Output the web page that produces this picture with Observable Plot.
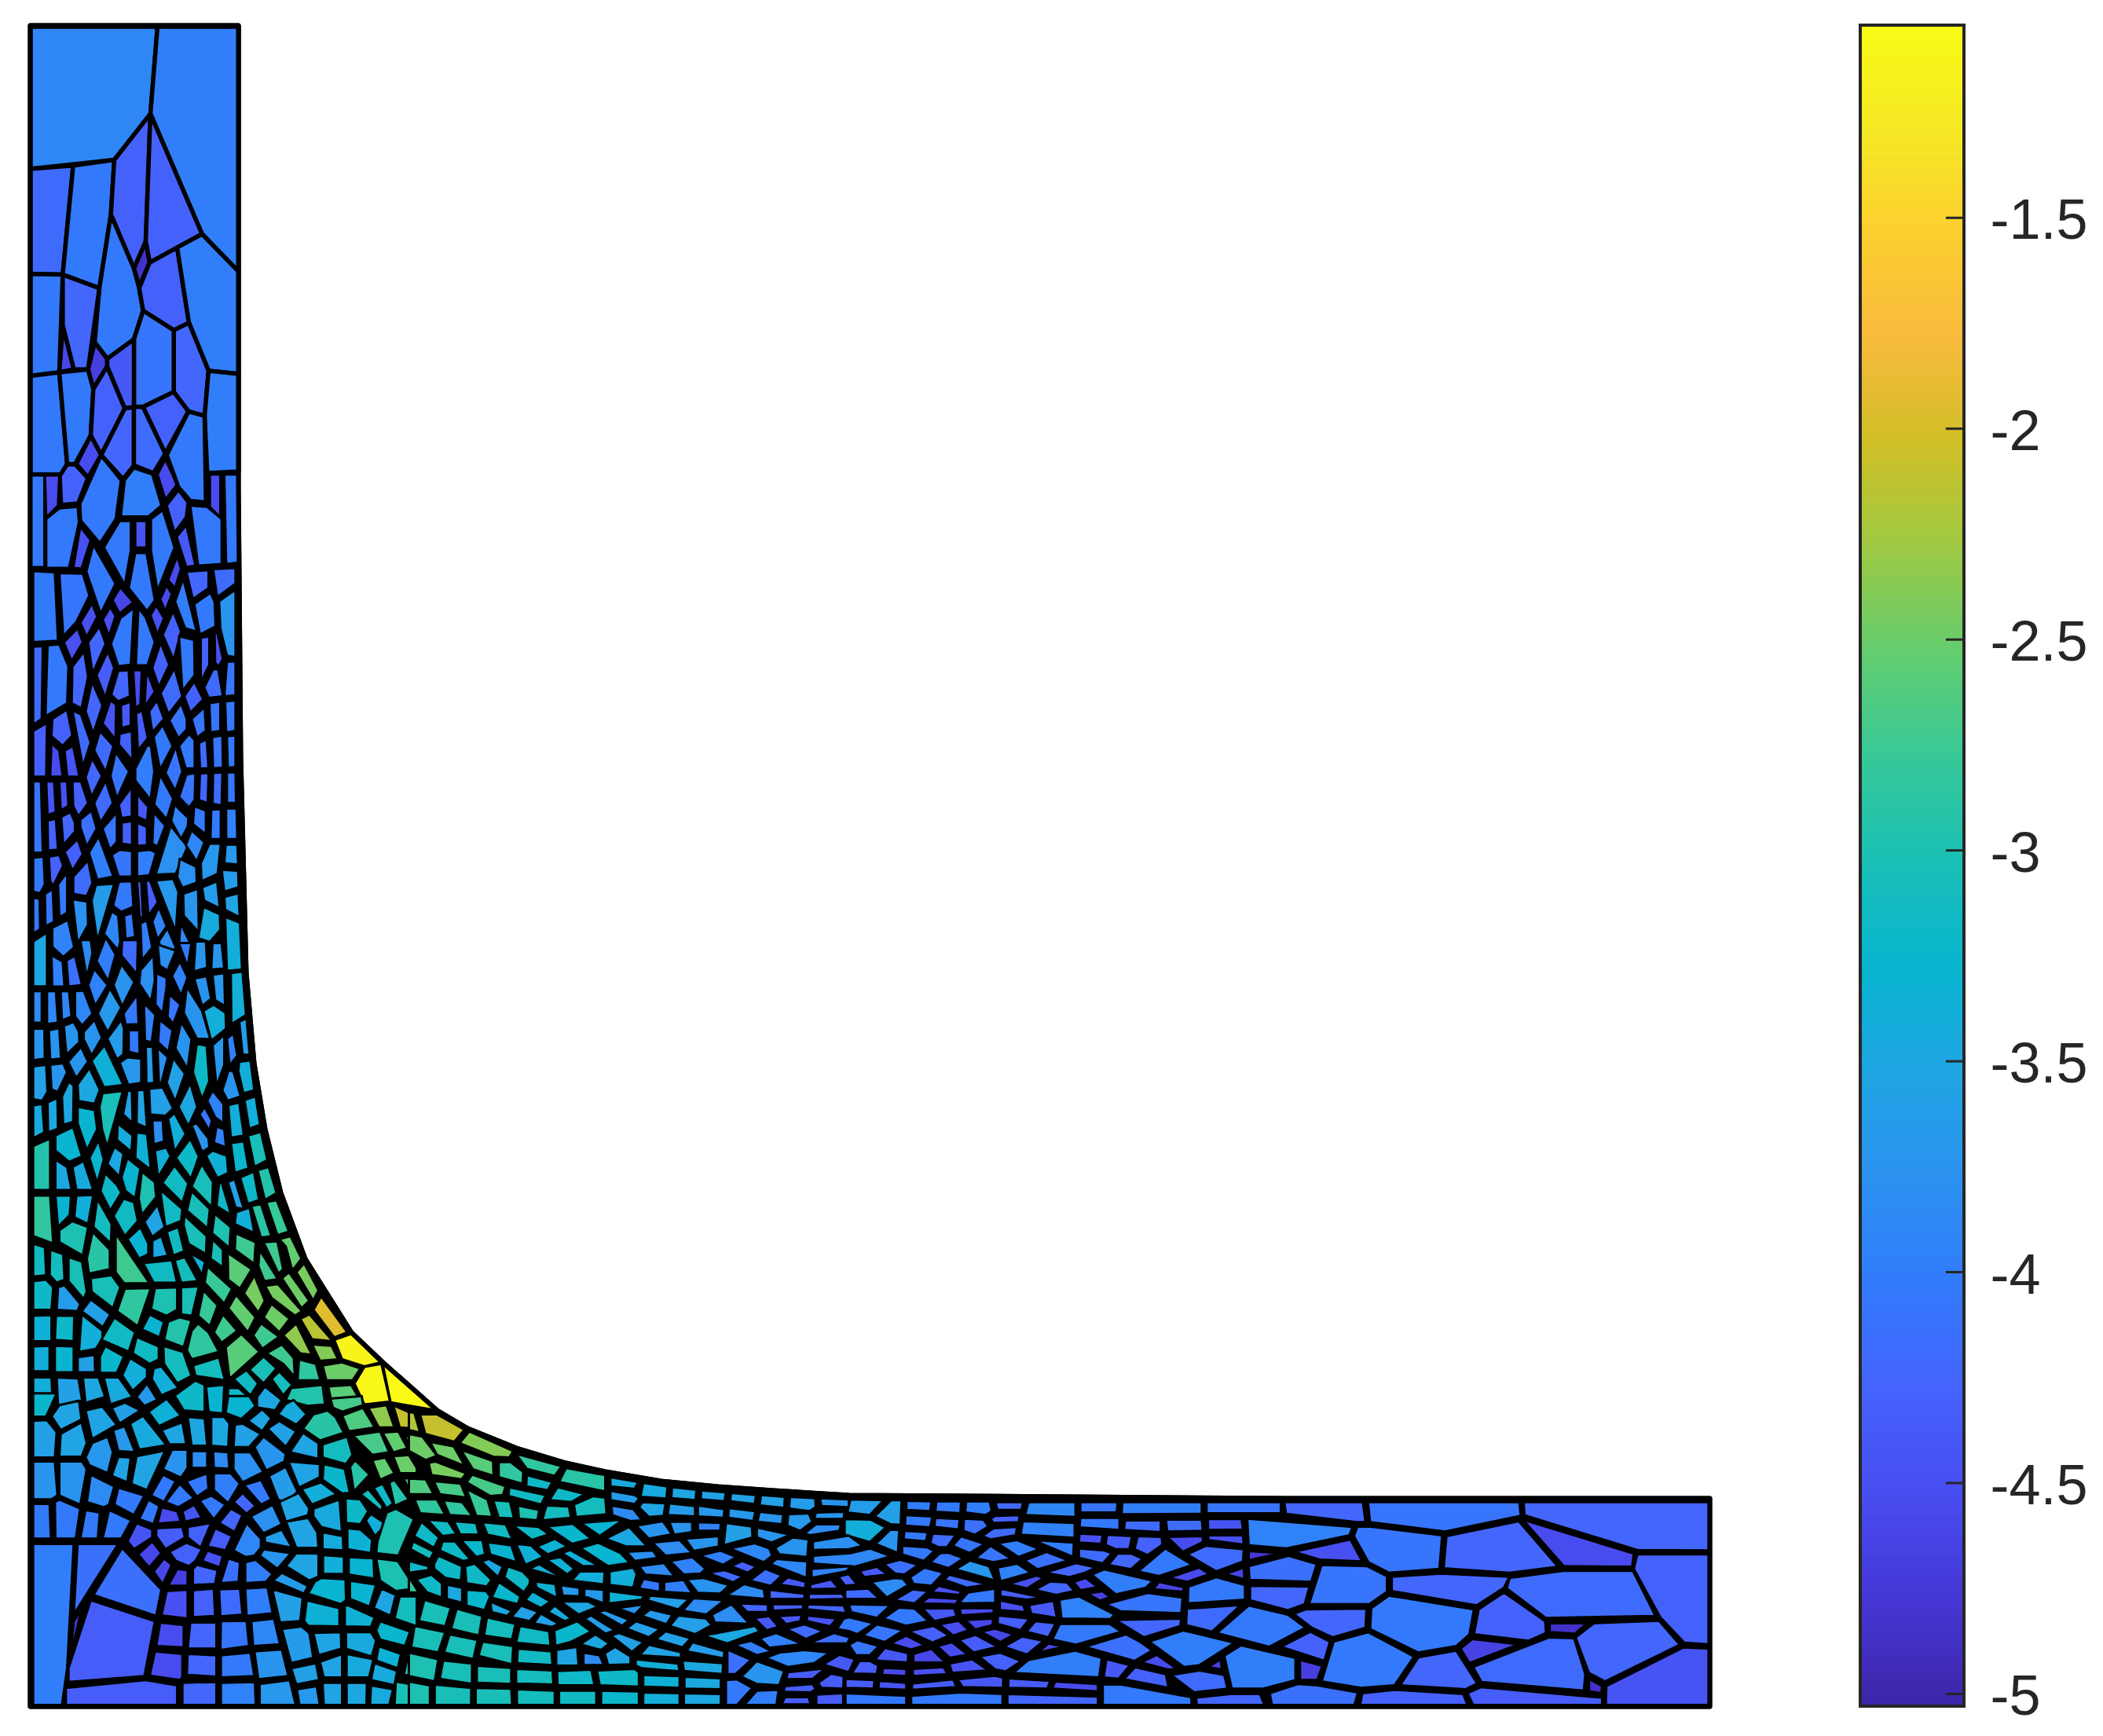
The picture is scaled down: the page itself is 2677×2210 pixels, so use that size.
<!DOCTYPE html>
<html><head><meta charset="utf-8">
<script src="https://cdn.jsdelivr.net/npm/d3@7"></script>
<script src="https://cdn.jsdelivr.net/npm/@observablehq/plot@0.6"></script>
<style>html,body{margin:0;background:#fff}#c{position:relative;width:2677px;height:2210px;overflow:hidden}#c svg{position:absolute;top:0;background:transparent}</style>
</head><body><div id="c"></div>
<script>
const meshTop=[
[-3.9,25,35,510,35,483,325,345,478,25,508],[-4,510,35,820,35,820,850,680,725,483,325],[-4.2,25,508,188,497,148,860,25,858],
[-4.05,188,497,345,478,332,660,288,905,148,860],[-4.3,345,478,483,325,465,750,420,840,332,660],[-4.3,483,325,680,725,585,770,480,820,465,750],
[-4.85,465,750,480,820,440,900,420,840],[-4.05,332,660,420,840,440,905,455,980,420,1075,318,1140,270,1085,288,905],[-4.3,480,820,585,770,630,1020,572,1045,455,980,440,905],
[-4,585,770,680,725,820,850,820,1190,705,1180,630,1020],[-4.25,630,1020,705,1180,690,1330,628,1315,572,1250,572,1045],[-4.1,455,980,572,1045,572,1250,455,1300,420,1300,420,1075],
[-4,705,1180,820,1190,820,1515,700,1520,690,1330],[-4.05,25,858,148,860,135,1185,25,1197],[-4.25,148,860,288,905,245,1175,190,1175,148,1030],[-4.6,148,1030,190,1175,135,1185],
[-4.05,25,1197,135,1185,165,1490,140,1525,25,1525],[-4.05,135,1185,245,1175,265,1240,255,1395,195,1490,165,1490],[-4.7,270,1085,318,1140,318,1165,265,1240,245,1175],
[-4.3,265,1240,318,1165,385,1305,295,1460,255,1395],[-4.4,318,1140,420,1075,420,1300,385,1305,318,1165],[-4.55,255,1395,295,1460,245,1535,200,1490],
[-4.25,385,1305,420,1300,420,1495,378,1540,295,1460],[-4.2,420,1300,455,1300,540,1455,495,1520,420,1495],[-4.3,455,1300,572,1250,628,1315,540,1455],
[-4.05,628,1315,690,1330,695,1618,635,1613,590,1568,545,1460]];
const meshUpper=[
[-4.05,25,-43,78,-43,78,265,25,265],[-4.55,80,-43,135,-43,130,60,85,100],[-4.3,140,-43,165,-73,195,-73,240,-30,205,50,145,55],[-4.05,85,105,135,70,205,65,210,115,172,268,85,268],
[-4.5,215,130,255,175,220,270,188,268],[-4.05,295,-103,370,-23,350,105,290,185,218,110,215,55],[-4,385,-23,420,-63,490,-43,525,60,475,97,370,97],[-4.55,510,-43,540,-93,585,-10,540,40],
[-4.3,545,60,590,10,625,50,618,100,575,150],[-4.55,710,-43,750,-43,750,100,710,65],[-4.05,765,-43,820,-43,820,250,772,255],[-4.05,635,60,700,65,755,105,755,255,665,260],
[-4.4,583,165,620,125,655,260,620,265],[-4.05,485,105,530,75,575,200,510,345,485,210],[-4.05,365,112,408,112,408,210,385,325,305,200],[-4.45,425,112,468,112,468,200,425,200],
[-4.05,425,218,468,218,500,375,470,412,400,335],[-4.05,265,190,350,320,293,420,238,280],[-4.05,35,278,118,282,130,510,35,515],[-4.1,135,285,225,287,250,360,200,448,150,495],
[-4.55,585,228,600,270,577,335,550,308],[-4.25,620,280,705,275,705,335,645,372],[-4.2,722,272,808,268,808,320,738,365],[-3.75,745,378,808,340,808,565,775,560,750,470],
[-4.05,650,388,712,350,728,380,732,462,672,490],[-4,608,302,660,480,615,468,577,380],[-4.6,368,332,418,382,365,420,338,375],[-4.5,260,385,280,430,240,498,215,450],
[-4.5,330,398,350,428,325,495,300,440],[-4.55,545,325,565,355,540,412,520,372],[-4.5,505,392,535,435,510,490,483,425],[-4.05,420,400,368,435,332,520,360,595,408,590],
[-4.05,437,400,465,432,500,515,472,592,427,592],[-4.3,570,410,600,478,572,575,530,490],[-4.5,205,468,225,515,182,578,152,515],[-4.25,288,462,312,520,262,620,245,515],
[-4.35,320,545,345,600,310,700,277,625],[-4.2,35,530,72,528,68,770,35,790],[-4.05,90,525,135,522,170,595,165,718,82,762],[-4.25,230,545,245,630,220,735,182,718,185,595],
[-4.25,360,610,400,608,405,695,360,712,333,690],[-4.55,417,608,450,608,445,722,425,735],[-4.5,468,608,500,680,460,730],[-4.3,522,515,555,590,515,665,490,600],
[-4.2,575,600,605,695,552,755,522,685],[-4.05,592,495,650,507,652,625,605,678],[-4.3,675,500,708,495,708,590,675,648],[-4.5,728,482,738,482,760,570,745,595,730,585],
[-4.2,722,605,742,605,760,695,705,700,688,665],[-4.3,650,645,685,705,635,750,612,695],[-4.2,478,745,508,708,535,770,490,815],[-4.1,600,718,622,770,622,805,590,835,555,775],
[-4.1,690,730,695,810,660,832,640,770],[-4.1,708,718,750,712,750,810,712,815],[-4.05,768,712,808,708,808,810,772,815],[-4.3,165,738,185,825,148,860,105,828,108,770],
[-4.3,35,810,88,783,85,962,35,962],[-4.2,185,742,218,755,255,848,225,930],[-4.25,260,645,300,725,265,820,235,745],[-4.45,330,708,352,722,350,840,300,785],
[-4.4,370,725,408,712,408,792,372,800],[-4.35,428,752,452,742,473,835,435,875],[-4.05,530,790,568,860,520,940,495,830],[-4.55,105,850,135,875,148,962,100,962],
[-4.45,155,875,188,860,212,962,165,962],[-4.2,290,810,342,860,312,948,268,875],[-4.3,412,810,415,910,362,855,365,820],[-4.1,580,860,605,945,578,1010,540,950],
[-4.05,630,820,652,840,652,935,618,935,592,860],[-4.2,668,850,698,838,705,935,672,935],[-4.1,718,830,758,825,760,932,722,935],[-4.05,775,828,808,825,808,930,778,932],
[-4.25,260,900,298,960,258,1030,235,965],[-4.1,350,880,402,945,355,1035,330,960],[-4,470,858,485,860,498,945,483,1040,425,975,425,935],[-4.05,520,955,570,1035,545,1105,497,1055],
[-4.1,620,955,655,950,652,1040,630,1065,592,1030],[-4.25,672,952,705,950,702,1050,668,1040],[-4.2,722,950,758,948,755,1058,720,1052],[-4.1,775,948,808,948,810,1050,775,1050],
[-4.1,35,978,65,978,72,1215,35,1215],[-4.45,85,978,115,978,122,1080,90,1090],[-4.5,135,978,165,978,170,1060,140,1075],[-4.3,185,978,218,978,245,1050,208,1095,188,1060],
[-4.2,312,975,340,1050,292,1115,268,1050],[-4.3,412,995,412,1095,372,1100,362,1055],[-4.4,432,1020,475,1062,470,1110,432,1095],[-4.3,90,1108,122,1102,130,1205,92,1208],
[-4.25,142,1095,178,1080,195,1115,195,1145,150,1190],[-4.15,258,1075,278,1135,240,1195,215,1130,215,1105],[-4.1,355,1080,355,1180,328,1205,300,1135],[-4.3,373,1115,413,1110,413,1190,373,1185],
[-4.3,432,1115,470,1130,470,1190,432,1192],[-4.05,495,1080,540,1125,510,1195,490,1185],[-3.8,560,1125,625,1195,580,1285,503,1288],[-3.95,575,1055,628,1100,625,1130,600,1170,562,1110],
[-4.05,650,1060,695,1075,695,1155,645,1120],[-4.05,715,1072,752,1070,752,1170,712,1170],[-3.95,772,1068,812,1068,815,1170,772,1170],[-3.9,640,1140,690,1180,660,1245,618,1190],
[-3.7,708,1185,752,1185,740,1285,678,1310,675,1250],[-3.7,770,1188,815,1188,818,1255,765,1250],[-4.05,35,1232,75,1228,80,1320,62,1350,35,1345],[-4.3,95,1228,135,1222,150,1258,112,1325,100,1310],
[-4.3,205,1170,225,1220,185,1275,155,1212],[-4.2,245,1240,262,1315,240,1360,188,1352,188,1295],[-4,285,1160,342,1295,280,1305,248,1215],[-4.1,365,1205,413,1210,413,1295,362,1295,335,1222],
[-4,432,1210,480,1205,505,1215,480,1290,432,1295],[-3.65,345,1318,280,1510,258,1375,275,1322],[-4.05,362,1312,412,1310,418,1395,372,1412,340,1392],[-4.35,432,1310,448,1310,455,1430,442,1432],
[-4.35,465,1308,482,1308,512,1380,475,1425],[-3.7,503,1308,570,1302,590,1345,580,1480],[-3.8,595,1235,658,1262,660,1315,605,1332,585,1295],[-3.65,680,1330,738,1310,748,1400,688,1375],
[-3.65,755,1272,818,1275,820,1330,765,1345],[-3.55,765,1362,820,1350,824,1430,768,1405],[-3.75,608,1352,665,1335,668,1480,610,1425],[-3.45,685,1395,748,1420,750,1472,710,1512,665,1500],
[-3.4,768,1428,825,1448,833,1604,775,1608],[-4.05,35,1365,60,1368,62,1470,35,1485],[-4.1,80,1352,110,1335,115,1445,82,1460],[-4.05,130,1320,165,1280,165,1415,135,1430],
[-3.8,185,1370,242,1378,245,1455,205,1518],[-3.95,108,1465,168,1438,192,1530,150,1562,108,1528],[-3.5,35,1510,88,1480,88,1660,35,1660],[-3.9,335,1410,360,1425,368,1510,360,1540,305,1485],
[-4.05,382,1425,415,1415,425,1495,388,1502],[-4,445,1450,470,1440,490,1530,450,1574],[-3.95,490,1445,515,1395,545,1460,510,1505],
[-4.1,775,580,808,578,808,692,765,695],[-3.85,515,1510,548,1465,580,1530,555,1568,530,1568],[-3.9,598,1448,640,1525,628,1568,592,1520]];
const meshCorner=[
[-3.95,105,40,148,62,155,145,108,145],[-4.15,162,58,195,42,222,140,170,145],[-3.85,215,-10,255,-10,262,35,240,115],[-4,312,-20,350,38,322,128,277,60],[-4.2,375,-10,435,-10,432,105,372,42],
[-3.8,495,40,500,125,485,195,440,135,445,90],[-3.8,510,5,580,25,548,92,518,75],[-4.05,592,0,640,0,625,80,595,10],[-3.95,565,110,595,60,625,115,600,175],[-3.75,655,-5,695,-5,700,82,648,95],
[-3.75,720,0,755,0,765,85,715,88],[-3.75,650,118,698,110,715,185,680,210],[-3.7,720,105,765,100,768,210,730,190],[-3.85,35,160,68,160,68,265,35,265],[-3.9,88,160,122,160,130,265,88,270],
[-3.9,140,160,172,160,182,245,145,258],[-3.9,195,160,228,158,262,235,222,275,195,245],[-3.95,245,140,268,85,320,140,272,210],[-3.7,328,150,372,215,320,298,282,235],[-3.75,342,140,372,70,422,130,375,212],
[-4.05,433,170,438,270,388,272,380,235],[-3.95,458,200,502,238,488,330,462,325],[-4.05,505,100,545,115,545,145,530,235,502,205],[-4.1,555,170,598,205,570,270,548,245],[-3.75,622,145,680,225,712,320,660,318,610,232],
[-3.4,685,225,725,205,770,232,772,285,715,325],[-3.4,790,100,835,95,848,240,792,270],[-3.75,35,285,78,285,80,385,35,390],[-3.75,95,290,135,283,142,385,100,388],[-3.75,152,275,190,262,210,295,212,330,162,372],
[-3.75,270,255,298,315,258,375,228,320,228,295],[-3.65,372,255,382,285,380,370,355,388,318,318],[-4.05,400,290,440,290,442,370,400,362],[-4.05,518,255,568,290,552,362,512,330],[-3.75,600,262,640,320,625,420,578,350],
[-3.2,660,335,698,342,708,460,680,520,645,430],[-3.7,720,340,765,305,765,405,735,478],[-3.95,775,318,800,300,815,375,785,408],[-3.65,822,262,850,250,862,372,835,372],[-3.6,35,410,85,405,90,495,70,525,35,520],
[-3.75,100,405,150,400,165,430,130,495,105,488],[-3.75,218,345,245,395,200,450,168,395],[-3.35,308,340,380,472,305,480,258,392],[-3.7,365,398,395,380,448,385,448,465,398,472],[-3.65,465,345,492,345,498,465,468,468],
[-3.8,510,348,550,380,525,465,515,465],[-3.6,570,382,615,435,578,528,545,465],[-3.45,35,540,70,535,78,630,35,650],[-3.5,90,530,128,515,130,618,92,630],[-3.5,145,510,172,460,190,475,188,595,150,605],
[-3.5,205,470,250,415,290,488,270,535,208,525],[-3.05,300,500,378,492,318,680,298,620,288,545],[-3.6,395,492,412,490,415,600,378,570],[-3.55,432,490,460,488,470,615,430,600],[-3.6,478,485,530,480,570,550,540,575,482,570],
[-3.5,590,545,635,465,662,545,628,610],[-3.95,720,490,762,535,762,600,730,580,700,525],[-4.1,670,570,690,545,718,590,708,625],[-3.75,782,422,800,428,828,510,778,525,757,490],[-3.4,822,395,865,390,880,490,838,500,818,425],
[-3.4,780,540,822,530,840,640,790,648],[-3.4,842,522,885,510,902,605,860,618],[-3.85,490,590,530,590,535,660,495,670],[-3.4,550,585,575,565,618,635,575,695],[-3.75,640,605,660,600,705,650,708,680,680,695],
[-3.95,735,610,765,620,772,680,725,665],[-3.3,205,545,270,555,280,620,240,690,205,600],[-3.3,120,640,188,612,222,710,172,728,120,690],[-2.95,35,675,100,650,100,822,35,822],[-3.5,120,720,165,745,182,822,120,822],
[-3.45,185,745,228,725,265,822,200,822],[-3.3,250,715,285,655,305,720,280,800],[-3.45,358,600,415,640,410,695,355,655],[-3.35,430,630,470,635,485,755,425,715],[-3.4,500,690,545,680,560,710,512,780],
[-3.2,580,715,635,650,668,710,638,785],[-3.35,695,708,720,690,775,708,780,765,738,782],[-3.25,790,665,840,660,858,750,805,765],[-3.05,855,640,905,628,930,722,880,745],[-3.5,345,678,380,700,365,778,318,735],
[-3.3,395,715,445,750,425,850,388,825,372,780],[-3,450,760,500,795,505,845,450,905,438,850],[-3.15,575,740,628,800,605,865,528,798],[-3.05,678,735,722,795,718,880,640,810],[-3.6,778,795,805,785,840,885,808,880],
[-3.2,825,780,878,760,898,855,855,868],[-2.95,892,755,935,745,965,832,920,855],[-3.2,310,765,355,805,372,830,330,890,292,825],[-3.15,380,850,420,862,435,925,385,975,342,908],[-3.15,520,820,605,885,600,925,540,945],
[-3.05,622,890,640,825,710,885,702,950],[-3.2,745,800,755,795,785,885,790,905,735,875],[-3.4,810,895,862,880,880,965,805,935],[-2.9,868,875,905,868,945,975,905,980],[-2.8,925,862,965,855,1012,960,968,972],
[-3.3,120,840,180,840,175,905,130,945],[-3.4,200,840,265,838,245,935,192,912],[-2.85,35,840,100,840,112,1000,35,975],[-3.1,280,850,335,935,332,1000,265,945],[-3.55,510,870,538,945,490,978,460,928],
[-3.05,612,905,698,975,695,1035,628,1000,610,940],[-3,728,900,790,945,785,1015,718,965],[-3,135,955,185,925,245,945,225,1040,135,995],[-2.9,262,960,328,1020,328,1085,248,1100,240,1050],[-2.75,350,965,480,1132,382,1132,350,1095],
[-3.3,395,985,445,945,475,1000,475,1035,440,1050],[-3.5,490,990,525,975,550,1040,490,1050],[-3.15,545,960,590,945,612,1025,570,1040],[-3.05,720,985,760,1020,760,1080,712,1050],[-2.75,808,965,885,995,880,1068,805,1020],
[-2.6,778,1030,870,1085,825,1150,780,1120],[-2.75,900,1020,970,1118,918,1125,895,1075],[-2.75,915,995,968,992,990,1085,972,1100],[-2.55,975,985,1018,975,1060,1050,1025,1090,1000,1010],[-3.15,35,1000,80,1012,85,1105,35,1110],
[-3.1,100,1020,150,1035,155,1120,125,1130,98,1105],[-3.05,170,1045,222,1060,240,1160,228,1185,170,1125],[-3.2,35,1125,85,1120,112,1145,105,1220,35,1220],[-3.65,130,1145,155,1138,215,1200,205,1225,125,1220],[-3.05,255,1115,335,1105,368,1145,340,1215,258,1160],
[-2.85,385,1150,485,1148,435,1275,355,1225],[-3.15,455,1065,565,1055,585,1130,495,1130],[-3.1,575,1055,615,1045,665,1125,600,1130],[-3.3,632,1030,692,1060,680,1105],[-2.8,700,1075,795,1150,765,1200,690,1130],
[-3,500,1148,585,1145,585,1220,545,1240,485,1218],[-3.05,600,1145,668,1142,642,1240,600,1235],[-2.8,685,1155,740,1205,710,1275,665,1240],[-2.55,810,1170,885,1245,855,1295,780,1215],[-2.45,840,1165,880,1105,920,1190,895,1230],
[-2.45,920,1140,970,1135,1062,1225,1035,1240,945,1180],[-2.45,1040,1095,1070,1065,1125,1155,1105,1190],[-2.5,985,1115,1012,1095,1090,1190,1060,1215],[-2.5,945,1200,1015,1250,975,1295,915,1245],[-1.95,1135,1175,1235,1295,1185,1312,1105,1220],
[-2.15,1090,1235,1180,1325,1100,1318,1055,1250],[-2.35,1040,1265,1100,1370,1055,1365,990,1305],[-2.4,1100,1335,1175,1340,1200,1385,1130,1390],[-1.15,1185,1320,1250,1300,1362,1395,1300,1408,1215,1385],[-1.1,1300,1410,1365,1400,1398,1525,1300,1535,1262,1465],
[-1.05,1370,1400,1578,1555,1400,1528],[-2.75,760,1235,815,1290,755,1330,725,1295],[-2.75,875,1305,905,1265,975,1310,910,1350],[-2.6,770,1345,830,1300,900,1360,785,1450],[-2.85,640,1290,665,1265,705,1295,745,1360,640,1385,622,1355],
[-2.75,925,1365,985,1335,1030,1380,1035,1445,990,1400],[-2.85,1050,1385,1115,1400,1132,1455,1045,1455],[-2.5,1140,1405,1215,1395,1285,1415,1255,1455,1155,1455],[-2.95,1020,1480,1140,1470,1150,1535,1085,1540,1000,1520],[-2.6,1162,1475,1250,1470,1290,1530,1180,1550],
[-3.4,220,1235,300,1290,300,1315,275,1350,210,1360],[-3.15,345,1245,425,1295,400,1360,295,1320],[-3.3,480,1235,535,1260,518,1312,450,1285],[-2.95,550,1260,595,1245,640,1255,610,1345,535,1320],[-3.35,35,1240,105,1238,105,1325,35,1325],
[-3.2,122,1240,192,1240,190,1325,118,1320],[-3.4,35,1342,98,1340,98,1425,35,1425],[-3.3,118,1340,190,1342,190,1428,118,1428],[-3.6,205,1378,270,1370,272,1428,205,1428],[-3.25,310,1340,382,1375,355,1430,290,1430,290,1375],
[-3.15,430,1310,515,1342,515,1385,480,1400,415,1365],[-3.1,532,1340,608,1360,640,1440,585,1465,535,1400],[-3.1,645,1405,745,1378,768,1455,655,1440],[-3.4,405,1380,470,1415,470,1445,415,1490,375,1438],[-3.4,495,1415,525,1408,590,1480,525,1505,488,1450],
[-3.4,35,1445,105,1445,110,1530,85,1570,35,1570],[-3.6,125,1445,208,1448,222,1520,130,1540],[-3.5,225,1445,285,1445,310,1510,235,1530],[-3.45,305,1445,362,1445,415,1510,330,1535],[-3.7,430,1510,470,1465,510,1520,460,1540],
[-3.2,575,1505,655,1455,690,1470,690,1560,610,1555],[-3.3,695,1475,765,1470,760,1565,705,1560],[-3.2,780,1480,820,1480,885,1530,840,1565,775,1555],[-3.15,800,1450,850,1420,895,1465,865,1505],[-3.5,890,1510,920,1475,985,1520,960,1555,890,1545],
[-3.1,945,1450,975,1425,1025,1470,990,1505],[-3.05,860,1420,915,1375,965,1415,915,1465],[-3.6,220,1225,255,1185,330,1235,302,1278]];
const meshFloorLeft=[
[-3.6,35,85,88,82,125,128,118,225,35,225],[-3.55,140,135,220,90,240,170,220,222,135,222],[-3.55,235,45,300,30,355,100,260,155],[-3.6,335,35,385,15,445,45,365,95],[-3.35,475,50,545,0,600,65,515,105],
[-3.55,525,120,605,90,620,175,555,175],[-3.45,405,95,455,65,545,178,440,195],[-3.7,340,120,385,105,425,205,360,200],[-3.7,260,170,320,145,340,205,320,285,250,255,235,225],[-3.55,360,222,408,225,395,320,335,295],
[-3.55,430,220,540,198,470,350,410,325],[-3.75,35,240,118,240,128,370,105,385,35,385],[-3.75,135,240,222,240,240,270,215,405,135,370],[-3.85,255,290,345,335,325,405,305,415,240,395],[-4.05,360,340,460,370,420,445,345,405],
[-4.05,35,402,98,402,103,535,35,535],[-4.05,118,395,135,385,215,420,198,535,120,535],[-4.05,235,425,290,435,282,535,215,535],[-4.05,325,425,410,465,372,535,300,535],[-4,35,555,190,555,165,1030,145,1170,35,1170],
[-4.15,205,555,360,555,190,825],[-4.8,190,850,220,805,178,985],[-4.15,375,570,525,730,505,830,265,750],[-4.35,255,770,500,850,460,1060,170,1082,170,1030],[-4.35,160,1105,465,1075,585,1095,585,1170,160,1170],
[-4.05,530,290,580,315,535,395,485,370],[-3.75,565,195,625,195,625,265,600,302,530,270],[-3.85,640,200,700,200,700,265,640,265],[-3.85,722,200,780,205,785,268,725,265],[-3.8,800,205,865,205,915,280,835,320,800,270],
[-3.75,880,185,915,145,1000,210,995,240,925,275],[-3.5,625,70,690,75,700,180,640,180],[-3.5,715,70,765,70,785,95,780,185,715,180],[-3.6,805,100,835,95,905,135,860,185,800,185],[-3.3,780,-10,860,-10,885,28,830,78,770,55],
[-3.55,855,85,910,40,945,75,910,125],[-3.6,930,115,975,85,1040,125,1000,185],[-3.45,1000,20,1030,5,1080,60,1040,100,970,60],[-2.9,1065,115,1105,60,1160,45,1190,70,1222,130,1130,160],[-3.55,1015,205,1065,130,1125,170,1125,230],
[-3.1,1140,175,1235,145,1255,215,1230,250,1140,225],[-2.7,1255,140,1360,125,1395,205,1330,215],[-2.65,1215,65,1295,35,1340,110,1240,125],[-2.35,1315,35,1385,25,1415,110,1355,110],[-2.7,1170,0,1290,-10,1295,25,1215,50,1180,35],
[-2.1,1410,25,1500,65,1500,115,1435,110],[-2.55,1370,130,1430,125,1465,190,1410,205],[-2.5,1450,135,1500,165,1500,205,1485,205],[-3.55,1010,240,1130,250,1130,300,1050,340],[-3.25,1145,250,1225,268,1245,360,1215,362,1140,310],
[-2.9,1245,260,1265,235,1320,290,1260,355],[-2.55,1330,235,1380,225,1415,285,1360,310],[-2.5,1410,220,1470,215,1500,265,1500,285,1435,285],[-2.75,1450,305,1500,300,1500,365,1475,360],[-2.95,1395,320,1415,310,1470,385,1415,410],
[-3.2,1335,340,1370,325,1410,400,1385,420],[-3.1,1285,365,1315,345,1370,410,1365,430],[-3.65,935,295,1000,260,1045,355,1000,400,970,385],[-4.05,840,330,905,310,945,385,905,405],[-4.05,620,315,700,285,705,345,660,375],
[-4,725,285,790,285,825,325,780,400,725,350],[-4.05,595,325,650,380,590,415,540,395],[-4.05,670,390,715,370,770,405,725,462],[-4.45,605,430,650,405,680,455,615,470],[-4.25,835,360,885,410,850,440,800,395],
[-3.55,975,395,1050,360,1090,420,1085,445,1000,470],[-3.8,865,450,950,405,985,480,915,515],[-3.4,1060,345,1135,320,1195,365,1100,405],[-3.45,1105,420,1205,385,1215,510,1135,490,1105,450],[-3.2,1228,380,1285,385,1315,430,1285,480,1230,475],
[-3.4,1305,465,1325,440,1385,480,1340,525],[-3,1385,435,1420,420,1490,460,1430,600,1345,590,1350,545],[-4.05,440,460,475,385,518,410,495,480],[-4.55,525,415,585,430,600,470,510,478],[-4.25,745,475,790,420,835,445,805,510],
[-4.35,505,495,605,490,615,530,540,575,505,525],[-4.3,625,490,715,475,675,570,625,530],[-4.35,730,495,795,525,770,580,700,565],[-3.9,800,580,850,475,905,535,905,570,880,600,845,605],[-4.45,395,545,430,475,490,500,490,530,420,575],
[-3.65,920,525,985,500,1025,570,920,550],[-3.55,1000,470,1085,455,1120,510,1125,570,1040,570],[-3.45,1140,510,1218,525,1220,580,1140,575],[-3.35,1235,495,1285,500,1330,540,1325,590,1235,575],[-4.6,435,595,490,545,525,590,478,645],
[-4.3,555,585,620,550,680,575,655,620,630,640,580,620],[-4.6,495,660,535,610,565,635,530,710],[-4.7,550,715,585,650,625,655,625,715],[-4.25,645,650,660,635,740,655,730,708,645,712],[-4.5,680,620,700,580,760,600,748,645],
[-3.75,900,600,915,575,1020,590,968,650],[-3.55,1000,640,1040,590,1125,592,1125,680,1090,695],[-3.4,1142,598,1222,603,1222,670,1142,670],[-3.3,1240,605,1335,610,1338,688,1240,672],[-4.15,750,705,780,610,825,625,820,700],
[-4,845,625,885,615,950,670,925,700,845,705],[-3.65,950,695,985,665,1085,715,1070,745],[-3.3,1110,700,1135,685,1228,690,1230,770,1210,785,1085,745],[-3.3,1245,695,1345,710,1320,795,1245,765],[-3,1345,610,1428,620,1495,725,1420,735,1360,695],
[-4.5,545,735,625,730,625,840,525,828],[-4.3,645,732,725,725,730,830,645,835],[-4.2,745,728,825,725,835,825,750,832],[-4,845,725,930,720,950,820,850,830],[-3.6,948,728,1065,760,1055,850,978,855],
[-3.35,1080,770,1205,800,1205,870,1085,868,1070,850],[-3.35,1225,790,1240,790,1340,835,1325,872,1225,870],[-3.55,1365,725,1420,750,1400,830,1335,800],[-3.1,1435,755,1500,755,1500,870,1415,840],[-4.55,520,855,610,865,610,950,505,945],
[-4.25,635,855,735,855,735,955,625,955],[-4.1,752,850,850,848,860,945,750,960],[-3.9,868,850,955,840,978,938,875,945],[-3.65,985,880,1060,870,1090,895,1105,990,1020,1010],[-3.55,1105,895,1210,892,1212,955,1125,980],
[-3.45,1230,892,1325,892,1345,925,1328,985,1230,955],[-3.25,1345,885,1360,850,1475,890,1455,945,1360,920],[-4.55,500,965,605,975,605,1065,595,1075,480,1058],[-4.25,625,975,735,980,735,1062,622,1055],[-4.05,752,980,865,970,880,1060,752,1065],
[-3.75,880,965,985,958,1010,1060,895,1072],[-3.6,1020,1030,1115,1010,1128,1075,1040,1092],[-3.55,1130,1005,1215,975,1215,1065,1145,1065],[-3.45,1232,975,1335,995,1318,1065,1232,1065],[-3.35,1355,945,1440,975,1428,1030,1345,1000],
[-3.45,1338,1010,1425,1040,1415,1095,1325,1075],[-3.1,1470,965,1500,975,1500,1060,1450,1055],[-4.25,605,1085,735,1082,735,1170,605,1170],[-3.95,752,1085,882,1082,885,1170,752,1170],[-3.7,900,1090,1015,1075,1038,1170,900,1170],
[-3.7,1042,1110,1118,1098,1130,1170,1052,1170],[-3.55,1140,1085,1215,1085,1215,1170,1145,1170],[-3.5,1232,1085,1310,1085,1308,1170,1232,1170],[-3.45,1325,1095,1410,1110,1395,1170,1322,1170],[-3.05,1420,1080,1500,1095,1500,1170,1415,1170],
[-3.25,35,-20,125,-20,85,68,35,70],[-3.55,105,68,135,25,210,8,220,80,140,120]];
const meshFloorMid=[
[-2.1,40,60,100,60,198,118,162,165,58,135],[-2.2,0,50,20,55,40,130,0,120],[-2.4,180,170,215,125,372,200,358,225,300,222],[-2.5,0,135,48,145,100,218,60,235,0,200],[-2.5,75,165,160,182,200,258,100,215],
[-2.6,185,195,300,238,302,295,228,270],[-2.45,70,245,95,240,205,285,188,308,80,292],[-2.85,320,242,362,242,408,280,405,325,320,300],[-2.85,380,210,545,258,520,295,420,268],[-2.65,0,305,60,308,88,365,0,365],
[-2.7,88,315,185,325,205,378,110,365],[-2.7,205,320,225,290,345,335,335,368,290,372],[-3.2,420,292,512,318,495,350,418,335],[-2.9,560,265,700,292,700,355,535,318],[-3.45,718,300,818,318,805,345,718,335],
[-3.45,835,322,922,335,918,382,825,375],[-3.5,938,338,1025,348,1022,388,935,380],[-3.6,1042,350,1130,358,1125,392,1040,385],[-3.6,1148,360,1238,368,1232,403,1145,392],[-3.6,1255,368,1340,375,1338,418,1250,408],
[-3.65,1358,375,1448,380,1450,415,1428,430,1355,420],[-3.75,1465,380,1568,385,1568,415,1470,410],[-3.2,530,338,628,365,580,395,500,388],[-3.15,358,338,488,368,472,405,355,372],[-3.1,658,372,700,378,705,442,595,452,588,405],
[-3.65,718,352,805,368,822,380,805,403,718,388],[-3.55,832,395,915,400,908,448,855,452,820,415],[-3.65,928,400,1020,410,1020,450,922,445],[-3.7,1030,408,1125,422,1122,455,1030,450],[-3.7,1140,418,1235,430,1228,468,1138,455],
[-3.75,1250,432,1335,442,1330,480,1242,470],[-3.7,1352,442,1425,438,1438,470,1395,505,1348,485],[-3.75,1450,435,1552,432,1550,460,1445,460],[-3.85,722,408,800,422,832,465,790,468,725,445],[-2.85,20,385,100,385,130,445,40,438],
[-2.85,122,388,190,395,228,450,145,445],[-2.8,205,345,280,385,298,452,240,448],[-3.05,300,388,360,392,375,458,320,455],[-3,388,408,465,425,458,465,392,458],[-3.1,490,408,570,412,578,455,475,465],
[-3.15,65,462,140,468,170,518,120,525],[-3.15,160,468,240,475,250,520,182,518],[-3.15,262,472,345,480,370,540,280,520],[-3.2,368,482,462,490,500,518,438,540],[-3.25,490,488,585,478,650,535,582,555],
[-3.3,612,475,765,462,680,525],[-3.75,810,485,905,468,938,518,855,535],[-3.5,700,535,785,490,850,565,775,565],[-3.75,928,470,1010,470,1010,510,945,520],[-3.95,1030,472,1112,475,1110,505,1030,505],
[-3.6,1130,475,1222,488,1225,530,1122,560],[-3.75,1240,492,1360,520,1292,550,1240,530],[-3.85,1410,515,1450,480,1540,480,1535,505,1430,522],[-3.75,985,535,1105,525,1105,565,1015,582],[-3.85,868,550,965,540,1010,590,915,600],
[-3.2,45,470,108,530,90,570,18,525],[-3.2,120,545,165,545,220,615,192,620,110,580],[-3.25,185,540,262,540,272,595,240,605],[-3.3,280,548,365,560,385,625,290,595],[-3.35,382,555,435,560,480,605,415,635],
[-3.35,455,565,520,535,565,565,495,595],[-3.4,545,590,575,578,680,640,620,640],[-3.3,610,570,675,550,755,590,788,628,710,640],[-3.8,775,585,870,580,888,608,805,620],[-4,1035,600,1110,580,1168,605,1120,635],
[-3.9,1142,572,1232,552,1285,572,1295,600,1265,625],[-3.75,1305,570,1368,530,1425,538,1420,605,1320,595],[-3.95,930,620,1010,605,1058,650,1040,668,980,672],[-3.85,820,640,910,628,948,680,842,672],[-4.3,1148,640,1188,620,1240,642,1208,665],
[-4.2,1065,665,1125,655,1192,680,1155,702],[-3.9,1288,632,1310,612,1420,622,1418,685],[-4.15,1215,695,1270,650,1330,675,1290,715],[-4.4,1320,710,1350,682,1415,700,1412,725],[-4.4,1430,710,1505,690,1532,725,1430,728],
[-3.35,490,615,540,605,590,650,565,672],[-3.4,428,650,465,632,555,690],[-3.4,580,695,608,660,698,660,695,710],[-3.4,715,660,800,645,812,670,800,722,715,712],[-4.05,820,725,835,688,895,700,895,738],
[-4,910,700,980,692,1010,745,910,738],[-3.75,990,690,1050,685,1142,712,1110,745,1030,742],[-3.85,1130,752,1195,708,1265,728,1270,765],[-4.25,1285,730,1410,745,1410,765,1285,765],[-4.3,1425,745,1545,745,1555,765,1425,768],
[-3.1,15,545,90,585,75,615,5,575],[-3.2,0,620,70,640,70,655,0,665],[-3.2,90,630,105,600,190,640,185,695,130,685,90,650],[-3.2,200,640,235,630,295,692,278,718,205,705],[-3.5,258,622,285,612,335,642,318,682],
[-3.2,340,682,352,640,405,660,432,690,430,710,410,740],[-3.35,450,698,522,708,530,762,455,722],[-3.7,540,712,608,722,608,755,548,752],[-3.7,625,725,695,730,695,782,625,755],[-3.35,712,735,838,752,830,768,712,782],
[-3.2,25,690,80,672,118,705,118,760,65,740],[-2.85,0,680,35,740,0,740],[-3.5,135,710,190,722,190,780,135,765],[-3.25,205,730,275,735,290,755,270,808,205,790],[-3.25,295,760,320,700,398,755,388,785],
[-3.35,440,735,505,775,470,800,415,770],[-3.5,540,775,640,775,675,795,605,825],[-3.5,290,775,368,810,350,830,295,815],[-3.6,400,790,462,815,430,850,365,835],[-3.45,495,815,520,790,580,840,555,850],
[-3.6,445,858,470,820,535,860,510,872],[-3.6,850,770,860,752,1000,765,960,805],[-3.85,975,810,1015,762,1125,770,1060,825],[-4.25,1175,782,1280,785,1280,815,1205,815],[-4.3,1295,785,1405,785,1405,805,1298,810],
[-4.25,1420,785,1550,790,1560,820,1420,805],[-3.85,1080,825,1150,785,1215,860,1090,855],[-3.75,740,800,840,785,805,825],[-3.65,672,815,700,808,785,845,760,868],[-3.7,830,830,860,805,940,825,918,862],
[-3.65,625,840,650,828,735,885,700,898],[-3.6,775,878,810,850,895,880,855,912],[-3.6,930,868,960,828,1060,840,1080,865,1020,900],[-4.4,1230,838,1285,830,1318,872,1275,885],[-4.4,1315,830,1400,825,1395,850,1345,862],
[-4.45,1420,828,1525,840,1502,870,1418,850],[-4.2,1345,880,1410,862,1478,888,1415,918],[-3.6,720,905,750,895,838,930,795,968],[-3.6,880,920,915,888,1005,915,975,950],[-3.5,1048,905,1235,868,1250,890,1135,935],
[-3.95,1250,915,1310,895,1405,938,1285,952],[-4,1160,940,1220,925,1295,965,1240,980],[-3.9,1270,990,1320,970,1410,960,1500,970,1445,1010,1350,1025],[-3.65,1010,930,1125,965,1122,992,990,965],[-3.55,822,980,855,940,970,968,970,990],
[-3.5,610,938,665,900,715,935,685,960],[-3.25,518,885,600,850,650,890,575,930,522,945],[-3.55,525,960,600,948,605,1020,525,1020],[-3.85,622,970,680,980,695,1018,622,1018],[-3.55,698,972,735,948,790,985,790,1015,710,1018],
[-3.4,808,995,960,1012,965,1042,830,1030,808,1020],[-3.5,975,1000,1120,1010,1118,1052,980,1040],[-4.15,1135,958,1220,998,1165,1052,1135,1052],[-3.75,1185,1062,1240,1002,1338,1040,1320,1095,1240,1090],[-4.35,1350,1045,1485,1030,1440,1070,1345,1072],
[-4.35,1458,1085,1505,1050,1550,1060,1548,1108,1470,1105],[-4.35,1340,1098,1440,1090,1450,1110,1432,1122,1335,1120],[-4.35,1328,1168,1340,1140,1425,1140,1432,1168],[-4.35,1452,1130,1548,1125,1548,1170,1452,1170],[-4.05,1130,1075,1170,1072,1225,1105,1170,1170,1130,1170],
[-4,1195,1170,1240,1115,1318,1112,1310,1170],[-3.05,55,768,150,798,130,870,35,850],[-3.05,170,802,262,830,250,905,150,880],[-3.1,278,835,380,860,368,920,268,905],[-3.15,395,868,500,888,505,945,382,932],
[-3.05,20,868,130,892,105,970,8,950],[-3.05,145,900,245,922,230,995,125,970],[-3.05,262,928,372,945,368,1015,248,982],[-3.15,388,955,508,965,512,1018,385,1010],[-3,0,970,105,995,92,1080,0,1060],
[-3.05,122,1000,225,1012,225,1090,110,1070],[-3.05,242,1020,365,1028,365,1090,242,1085],[-3.1,382,1032,512,1038,515,1092,382,1088],[-3.2,528,1040,650,1035,662,1095,530,1095],[-3.2,670,1038,805,1032,820,1045,820,1100,680,1095],
[-3.35,835,1055,965,1060,965,1105,835,1100],[-3.5,982,1062,1112,1068,1112,1110,982,1108],[-3,0,1080,75,1095,75,1170,0,1170],[-3.05,92,1092,222,1105,222,1170,92,1170],[-3.05,238,1105,365,1108,368,1170,238,1170],
[-3.1,385,1110,520,1115,520,1170,385,1170],[-3.15,535,1115,668,1115,668,1170,535,1170],[-3.25,685,1115,820,1118,820,1170,685,1170],[-3.4,835,1122,965,1125,965,1170,835,1170],[-3.5,980,1125,1112,1128,1112,1170,980,1170]];
const meshFloorEast=[
[-3.65,5,145,125,148,75,205,-5,195],[-3.6,150,148,188,148,185,242,150,240,92,210],[-4,205,150,295,152,290,190,205,185],[-4.05,312,152,400,152,398,198,308,192],[-4,418,152,502,152,510,190,488,205,415,195],
[-4.2,522,155,622,155,615,185,530,185],[-3.9,640,155,808,155,808,212,628,205],[-4.1,825,155,958,155,955,195,825,195],[-4,975,155,1258,155,1258,200,972,202],[-4.1,1275,155,1540,155,1540,198,1275,198],
[-4.05,202,205,298,210,290,252,200,245],[-4.1,308,215,395,220,392,260,305,250],[-4.15,410,218,480,222,498,248,450,280,408,265],[-4.3,505,220,520,208,610,205,605,232,515,235],[-3.95,620,228,805,235,805,292,612,280],
[-4.05,825,215,965,215,965,262,822,252],[-4.2,985,225,1112,225,1112,270,980,262],[-4.2,1130,222,1258,222,1262,265,1135,268],[-4.45,1280,220,1400,220,1405,260,1280,262],[-3.4,-15,220,78,222,132,252,75,308,-15,280],
[-3.75,95,315,148,260,180,262,175,350],[-4.05,198,265,282,270,275,305,195,298],[-4.2,298,275,382,280,350,328,320,328,290,312],[-4.1,400,285,485,315,430,350,370,322],[-4.2,475,285,515,255,600,250,595,282,505,298],
[-4,655,300,802,310,800,365],[-4,530,312,600,300,680,335,605,365],[-4.5,822,275,905,280,900,315,820,310],[-4.35,920,280,1010,285,1000,335,950,335,915,318],[-4.3,1030,285,1115,288,1118,318,1065,358,1018,335],
[-4.55,1135,288,1262,285,1262,308,1190,345],[-4.5,1282,282,1405,282,1408,318,1280,300],[-4.05,190,322,280,328,305,342,268,380,190,355],[-3.8,-128,305,0,283,50,322,0,335,-128,338],[-3.9,-128,360,5,350,75,332,150,362,22,402,-128,390],
[-3.95,-133,410,10,400,-10,420,-133,445],[-4.3,-38,440,0,430,30,470,-13,475],[-4.1,325,350,355,348,410,370,355,408,290,385],[-4.1,450,370,505,322,580,372,515,385],[-4.15,625,378,705,345,785,378,672,412],
[-4.2,820,332,910,340,938,350,905,390,820,368],[-4.25,925,395,958,352,1008,352,1048,372,1005,412],[-4.05,1030,420,1128,332,1225,395,1105,438],[-4.2,1205,355,1272,322,1408,335,1405,382,1310,420],[-4.8,1425,342,1540,350,1425,378],
[-4.65,1340,430,1408,405,1410,450],[-4.55,1138,445,1248,405,1285,430,1205,460],[-4.25,700,425,810,388,882,405,842,425,785,442],[-4,865,432,910,412,1085,455,1060,482,952,508],[-3.7,380,412,432,378,500,400,522,455],
[-3.95,530,405,600,390,650,425,540,458],[-4.15,125,392,182,375,248,395,198,432,165,428],[-4.4,38,418,100,402,140,432,55,442],[-4.05,218,442,270,405,338,425,295,475,230,468],[-4.2,340,452,358,432,495,470,420,482],
[-4.5,568,468,670,435,695,445,635,485],[-4.55,800,460,845,445,888,480,825,492],[-4.25,662,490,718,458,778,462,805,495,738,510],[-3.85,80,460,165,445,192,448,212,472,135,520],[-4.2,-13,490,70,485,110,525,-13,525],
[-4.2,160,530,228,488,285,495,235,542],[-4.5,298,495,320,475,400,495,395,510,298,500],[-4.6,258,542,285,518,392,525,382,545],[-4.05,400,530,425,500,522,485,522,540,398,542],[-4.35,540,485,692,520,635,528,540,515],
[-4.5,538,530,622,548,630,575,538,568],[-4.4,642,548,730,532,742,598,650,582],[-3.95,750,528,820,515,948,585,932,602,758,600],[-4.7,850,505,905,495,932,518,895,532],[-4.65,1085,488,1105,460,1195,480,1192,498],
[-4.1,915,545,1065,502,1190,520,1185,580,968,572],[-4.05,1210,478,1310,442,1412,472,1412,528,1208,542],[-4.2,1205,562,1398,548,1295,650,1202,625],[-4.05,0,545,150,548,100,598,8,575],[-4.05,-43,640,-18,600,0,595,90,618,30,660,0,648],
[-4.05,122,600,178,558,235,562,285,610,205,628],[-4.4,262,562,375,560,385,592,305,610],[-4.55,395,560,518,560,515,580,400,588],[-4.6,415,605,515,600,512,625,450,642],[-4.55,322,622,392,608,428,645,372,665],
[-4.35,532,588,645,600,612,645,530,620],[-4.3,665,610,738,618,712,672,632,650],[-4.05,752,620,930,620,972,650,808,700,725,680],[-4.25,950,605,1185,600,1182,628,1052,672],[-4.1,50,665,100,622,195,645,128,690],
[-4.3,212,648,302,628,358,665,298,692],[-4.55,148,695,205,665,272,702,222,718],[-4.6,470,650,520,638,590,660,540,690],[-4.35,392,682,452,662,532,708,445,730],[-4.3,552,708,618,668,695,685,635,738],
[-4.6,672,730,712,695,770,708],[-4.15,840,708,988,660,1040,690,1082,722,1018,762],[-4,1070,688,1192,645,1375,692,1250,778,1195,785],[-4.15,-143,695,-53,655,5,672,-5,695],[-4.1,0,700,30,682,108,705,75,740,25,740],
[-4.4,92,758,128,712,212,732,210,768,118,762],[-4.6,230,735,295,715,345,768,230,768],[-4.55,315,705,368,690,425,738,360,750],[-4.3,465,745,540,730,615,762,560,802,522,795],[-4,585,808,640,758,805,722,902,750,892,825],
[-4.4,918,755,1002,778,962,830,908,825],[-4.55,1042,768,1098,738,1170,792,1138,795],[-4.3,980,832,1020,785,1130,812,1140,865],[-4.2,1148,815,1250,798,1338,815,1350,868,1230,882],[-4.7,1280,785,1325,755,1330,795],
[-4.4,-93,775,-33,738,22,755,0,805],[-4.35,10,810,38,762,75,762,105,778,100,812],[-4.6,122,788,205,792,205,820,118,815],[-4.5,228,792,338,785,352,812,228,820],[-4.45,358,772,440,755,498,798,368,808],
[-4.35,-12,830,92,835,88,868,-12,865],[-4.45,108,838,205,845,205,872,105,868],[-4.35,225,848,372,832,385,862,225,872],[-4.4,388,832,520,818,550,825,550,865,405,862],[-4.35,568,828,718,838,708,868,568,865],
[-4.55,735,840,888,850,888,878,725,868],[-4.05,905,852,972,852,1220,900,1222,930,905,930],[-4.25,1238,902,1360,888,1465,888,1482,930,1240,930],[-4.05,-12,885,205,895,205,930,-12,930],[-4.05,222,895,400,882,548,888,548,930,222,930],
[-4.25,565,888,888,898,888,930,565,930]];
const meshEnd=[
[-4.25,12,155,292,155,302,232,270,232,18,200],[-4.1,310,155,850,155,855,208,585,268,318,232],[-4.25,865,155,1525,155,1525,340,1270,338,868,205],[-3.95,-120,218,255,250,245,282,20,332,-115,320],
[-4.1,260,285,272,250,315,248,575,282,565,410,385,425,312,385],[-4.25,590,285,848,228,988,402,815,425,580,408],[-4.55,862,222,1258,352,1252,402,1008,400],[-4.3,1270,355,1525,355,1525,698,1438,692,1352,595,1258,410],
[-4.5,45,345,248,298,290,382,138,375],[-4.15,-115,400,28,360,128,392,108,460,-112,452],[-4.1,145,395,308,400,378,438,378,498,315,545,100,545],[-4.25,395,440,570,428,815,440,795,482,698,550,395,495],
[-4.2,815,445,1005,418,1255,418,1335,590,945,598,805,485],[-4.25,-110,475,102,478,85,545,25,568,-110,530],[-4.25,45,582,88,565,305,562,302,635,185,672,110,635],[-4.05,322,560,385,512,688,565,672,660,625,705,490,730,318,640],
[-4.3,705,565,795,500,942,610,945,655,882,685,688,660],[-4.85,958,618,1090,618,1048,658,958,652],[-4.25,1115,618,1348,608,1422,700,1155,840,1098,808,1050,672],[-4.65,682,678,848,698,672,770,640,715],
[-4.2,685,785,955,672,1045,675,1085,812,1080,875,715,842],[-4.85,1098,830,1145,858,1142,885,1098,878],[-4.45,1160,858,1435,710,1525,715,1525,930,1158,930],[-4.05,-228,655,-115,550,25,585,88,635,-42,708],
[-4.3,0,708,105,650,175,688,155,762],[-4.05,188,688,312,652,475,745,405,855,285,865,145,840],[-4.25,490,748,625,722,700,848,658,870,425,855],[-4,-202,742,-142,702,52,750,52,835,-65,868,-175,868],
[-4.7,68,758,148,780,130,835,68,835],[-4.15,-40,885,60,850,130,855,275,882,262,930,-32,930],[-4.3,290,885,405,872,650,888,665,930,282,930],[-4.35,665,885,712,862,1145,902,1145,930,685,930]];
// crop origin x, crop origin y, crop scale x, crop scale y
const regions=[[meshTop,30,20,3,2.613],[meshUpper,30,620,3,2.613],[meshCorner,30,1200,3,2.613],[meshFloorLeft,30,1780,3,3],[meshFloorMid,520,1780,2.8,3],[meshFloorEast,1080,1860,2.8,3],[meshEnd,1630,1860,2.8,3]];
const outlineX=[38,303,303,306,313,323,337,357,388,447,487,556,595,657,720,770,841,913,984,1080,1366,1640,2176,2176,38];
const outlineY=[32,32,620,964,1238,1353,1437,1518,1602,1696,1734,1795,1818,1843,1862,1873,1885,1892,1897,1903,1905,1907,1907,2172,2172];
const parula=["#3e26a8","#4537d5","#484df0","#4563fd","#327bfc","#2b91ef","#20a5e3","#08b5d0","#19bfb6","#37c897","#63cd6f","#9dc943","#d1bf27","#f8ba3d","#fccf30","#f5e924","#f9fb15"];
const cbTicks=[-1.5,-2,-2.5,-3,-3.5,-4,-4.5,-5];
const cbMin=-5.03,cbMax=-1.044;

const rows=[];let id=0;
for(const [list,ox,oy,sx,sy] of regions)for(const c of list){id++;for(let i=1;i<c.length;i+=2)rows.push({id,v:c[0],x:ox+c[i]/sx,y:oy+c[i+1]/sy,top:list===meshTop});}
const outline=outlineX.map((x,i)=>({x,y:outlineY[i]}));
const color={type:"linear",domain:[cbMin,cbMax],interpolate:d3.piecewise(d3.interpolateRgb,parula)};
const box=document.getElementById("c");
const mesh=Plot.plot({width:2677,height:2210,margin:0,x:{domain:[0,2677],range:[0,2677],axis:null},y:{domain:[0,2210],range:[0,2210],axis:null},color,style:{background:"transparent"},
 marks:[
  Plot.line(outline,{x:"x",y:"y",curve:"linear-closed",fill:"black",stroke:"black",strokeWidth:6}),
  Plot.line(rows.filter(d=>!d.top),{x:"x",y:"y",z:"id",fill:"v",stroke:"black",strokeWidth:3,curve:"linear-closed"}),
  Plot.line(rows.filter(d=>d.top),{x:"x",y:"y",z:"id",fill:"v",stroke:"black",strokeWidth:5.5,curve:"linear-closed"}),
  Plot.line(outline,{x:"x",y:"y",curve:"linear-closed",fill:"none",stroke:"black",strokeWidth:6})
 ]});
mesh.style.left="0px";box.appendChild(mesh);
const steps=d3.range(0,256).map(i=>({a:cbMin+(cbMax-cbMin)*i/256,b:cbMin+(cbMax-cbMin)*(i+1)/256}));
const bar=Plot.plot({width:377,height:2210,marginLeft:68,marginRight:177,marginTop:32,marginBottom:38,x:{domain:[0,1],axis:null},y:{domain:[cbMin,cbMax],axis:null},color,style:{background:"transparent",overflow:"visible"},
 marks:[
  Plot.rectY(steps,{x1:0,x2:1,y1:"a",y2:"b",fill:d=>d.a,stroke:d=>d.a,strokeWidth:1}),
  Plot.ruleY(cbTicks,{x1:0.825,x2:1,y:d=>d,stroke:"#262626",strokeWidth:3}),
  Plot.rect([0],{x1:0,x2:1,y1:cbMin,y2:cbMax,fill:"none",stroke:"#262626",strokeWidth:4}),
  Plot.text(cbTicks,{x:1,y:d=>d,text:d=>String(d),dx:33,dy:4,textAnchor:"start",fontSize:72,fontFamily:"Liberation Sans",fill:"#262626"})
 ]});
bar.style.left="2300px";box.appendChild(bar);
</script></body></html>
